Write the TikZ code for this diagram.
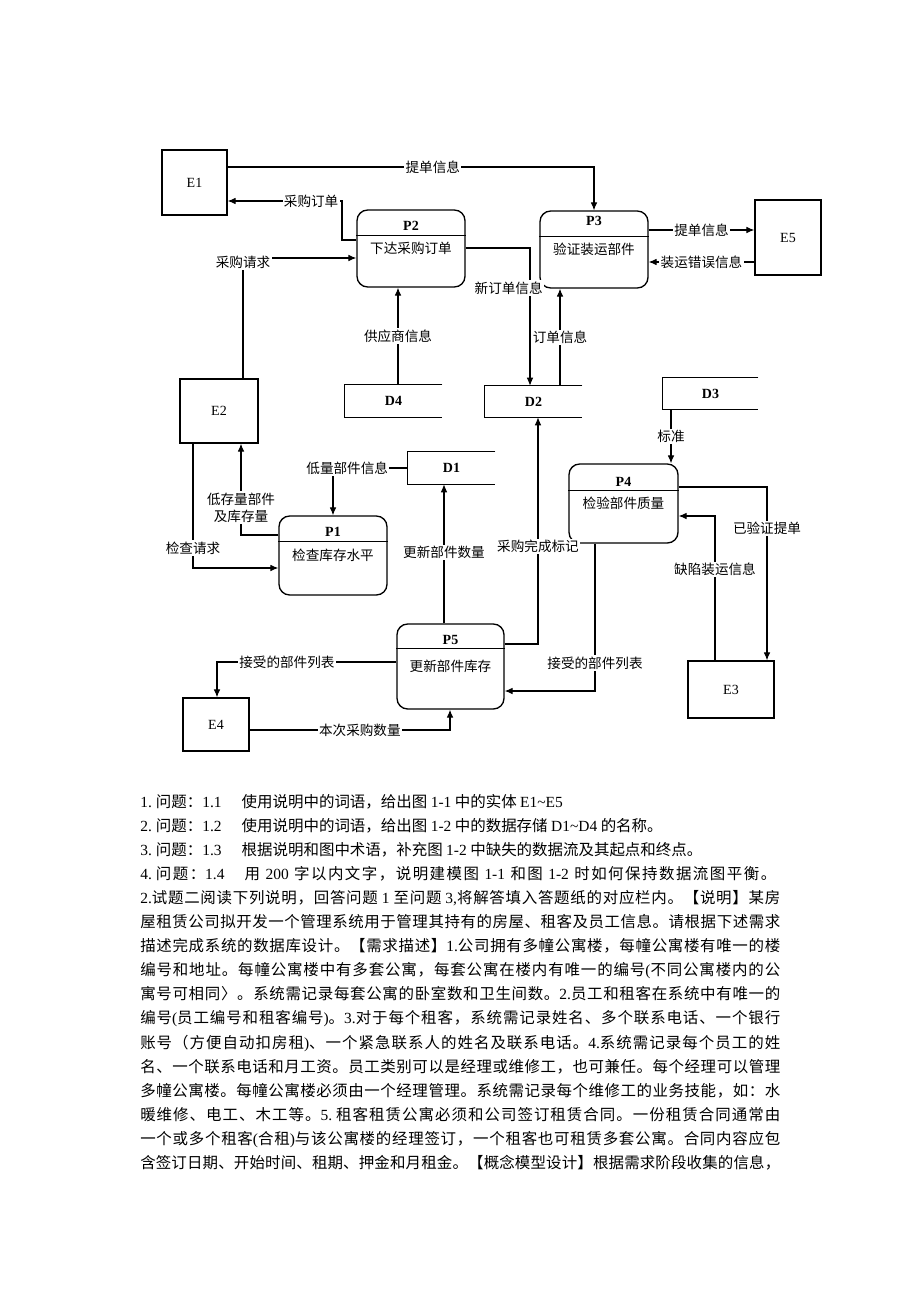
\documentclass[tikz,border=0pt]{standalone}
\usepackage{fontspec}
\setmainfont{Noto Sans CJK SC}
\newfontfamily\latn{Liberation Serif}
\usetikzlibrary{calc, shapes, arrows.meta, positioning}
% stretchable glue between Chinese characters, for the justified lines
\newXeTeXintercharclass\hzcls
\newcount\hzc
\hzc="4E00 \loop\XeTeXcharclass\hzc=\hzcls \ifnum\hzc<"9FFF \advance\hzc by 1 \repeat
\hzc="3000 \loop\XeTeXcharclass\hzc=\hzcls \ifnum\hzc<"303F \advance\hzc by 1 \repeat
\hzc="FF00 \loop\XeTeXcharclass\hzc=\hzcls \ifnum\hzc<"FFEF \advance\hzc by 1 \repeat
\XeTeXinterchartokenstate=1
\XeTeXinterchartoks \hzcls \hzcls = {\hskip 0pt plus 1pt}
\XeTeXinterchartoks 0 \hzcls = {\hskip 0pt plus 1pt}
\XeTeXinterchartoks \hzcls 0 = {\hskip 0pt plus 1pt}
\tikzstyle{entity} = [rectangle, draw, line width=1pt, font=\latn\fontsize{10.5}{12}\selectfont]
\tikzstyle{process} = [rectangle, draw, rounded corners=8pt, line width=1pt, font=\fontsize{10.2}{12}\selectfont]
\tikzstyle{pid} = [inner sep=0pt, font=\latn\bfseries\fontsize{10.5}{12}\selectfont]
\tikzstyle{store} = [rectangle, inner sep=0pt, font=\latn\bfseries\fontsize{10.5}{12}\selectfont]
\tikzstyle{flow} = [->, line width=0.8pt]
\tikzstyle{lbl} = [fill=white, inner sep=1pt, font=\fontsize{10.2}{12}\selectfont]
\tikzstyle{txt} = [anchor=base west, inner sep=0pt, font=\fontsize{11.6}{14}\selectfont]

\begin{document}
\begin{tikzpicture}[x=0.75pt, y=-0.75pt, >={Latex[length=6pt,width=5pt]}]
    \fill[white] (0,0) rectangle (920,1302);

    % external entities
    \node[entity, minimum width=48.75pt, minimum height=48.75pt] (E1) at (194.5,182.5) {E1};
    \node[entity, minimum width=58.5pt, minimum height=48pt] (E2) at (219,411) {E2};
    \node[entity, minimum width=64.5pt, minimum height=42.75pt] (E3) at (731,689.5) {E3};
    \node[entity, minimum width=49.5pt, minimum height=39.75pt] (E4) at (216,724.5) {E4};
    \node[entity, minimum width=49.5pt, minimum height=56.25pt] (E5) at (788,237.5) {E5};

    % processes
    \node[process, minimum width=81pt, minimum height=59.25pt] (P1) at (333,555.5) {检查库存水平};
    \node[pid] (P1id) at ($(P1.north)+(0,17)$) {P1};
    \draw[line width=1pt] ($(P1.north west)+(0,26)$) -- ($(P1.north east)+(0,26)$);

    \node[process, minimum width=81pt, minimum height=57.75pt] (P2) at (411,248.5) {下达采购订单};
    \node[pid] (P2id) at ($(P2.north)+(0,17)$) {P2};
    \draw[line width=1pt] ($(P2.north west)+(0,26)$) -- ($(P2.north east)+(0,26)$);

    \node[process, minimum width=81pt, minimum height=57.75pt] (P3) at (594,249.5) {验证装运部件};
    \node[pid] (P3id) at ($(P3.north)+(0,11)$) {P3};
    \draw[line width=1pt] ($(P3.north west)+(0,26)$) -- ($(P3.north east)+(0,26)$);

    \node[process, minimum width=81.75pt, minimum height=59.25pt] (P4) at (623.5,503.5) {检验部件质量};
    \node[pid] (P4id) at ($(P4.north)+(0,19)$) {P4};
    \draw[line width=1pt] ($(P4.north west)+(0,27)$) -- ($(P4.north east)+(0,27)$);

    \node[process, minimum width=80.25pt, minimum height=63.75pt] (P5) at (450.5,666.5) {更新部件库存};
    \node[pid] (P5id) at ($(P5.north)+(0,17)$) {P5};
    \draw[line width=1pt] ($(P5.north west)+(0,25)$) -- ($(P5.north east)+(0,25)$);

    % data stores
    \node[store, minimum width=65.25pt, minimum height=24pt] (D1) at (451.5,468) {D1};
    \node[store, minimum width=72.75pt, minimum height=23.25pt] (D2) at (533.5,401.5) {D2};
    \node[store, minimum width=71.25pt, minimum height=23.25pt] (D3) at (710.5,393.5) {D3};
    \node[store, minimum width=72.75pt, minimum height=24pt] (D4) at (393.5,401) {D4};
    \draw[line width=1pt] (D1.north east) -- (D1.north west) -- (D1.south west) -- (D1.south east);
    \draw[line width=1pt] (D2.north east) -- (D2.north west) -- (D2.south west) -- (D2.south east);
    \draw[line width=1pt] (D3.north east) -- (D3.north west) -- (D3.south west) -- (D3.south east);
    \draw[line width=1pt] (D4.north east) -- (D4.north west) -- (D4.south west) -- (D4.south east);

    % data flows
    \draw[flow] (E1.east |- 0,167) -- node[lbl, pos=0.56] {提单信息} (594,167) -- (P3);
    \draw[flow] (P2.west |- 0,240) -- (342,240) -- (342,201) -- node[lbl, pos=0.27] {采购订单} (E1.east |- 0,201);
    \draw[flow] (E2.north -| 243,0) -- node[lbl, pos=1, yshift=-3pt] {采购请求} (243,258) -- (P2.west |- 0,258);
    \draw[flow] (P2.east |- 0,248) -- (530,248) -- node[lbl, pos=0.29, xshift=-16pt] {新订单信息} (D2.north -| 530,0);
    \draw[flow] (D2.north -| 560,0) -- node[lbl] {订单信息} (P3.south -| 560,0);
    \draw[flow] (D4.north -| 398,0) -- node[lbl] {供应商信息} (P2.south -| 398,0);
    \draw[flow] (P3.east |- 0,230) -- node[lbl] {提单信息} (E5.west |- 0,230);
    \draw[flow] (E5.west |- 0,262) -- node[lbl] {装运错误信息} (P3.east |- 0,262);

    \draw[flow] (D3.south -| 671,0) -- node[lbl] {标准} (P4.north -| 671,0);
    \draw[flow] (P4.east |- 0,487) -- (767,487) -- node[lbl, pos=0.24] {已验证提单} (E3.north -| 767,0);
    \draw[flow] (E3.north -| 715,0) -- node[lbl, pos=0.63] {缺陷装运信息} (715,516) -- (P4.east |- 0,516);
    \draw[flow] (P4.south -| 595,0) -- node[lbl, pos=0.81] {接受的部件列表} (595,691) -- (P5.east |- 0,691);
    \draw[flow] (P5.east |- 0,644) -- (538,644) -- node[lbl, pos=0.43] {采购完成标记} (D2.south -| 538,0);
    \draw[flow] (P5.north -| 444,0) -- node[lbl, pos=0.51] {更新部件数量} (D1.south -| 444,0);
    \draw[flow] (D1.west) -- node[lbl, pos=0.81] {低量部件信息} (333,468) -- (P1.north -| 333,0);
    \draw[flow] (P1.west |- 0,535) -- (241,535) -- node[lbl, pos=0.30, align=center, font=\fontsize{10.2}{12.75}\selectfont] {低存量部件\\及库存量} (E2.south -| 241,0);
    \draw[flow] (E2.south -| 193,0) -- node[lbl, pos=0.84] {检查请求} (193,568) -- (P1.west |- 0,568);
    \draw[flow] (P5.west |- 0,662) -- node[lbl, pos=0.61] {接受的部件列表} (217,662) -- (E4.north -| 217,0);
    \draw[flow] (E4.east |- 0,730) -- node[lbl, pos=0.55] {本次采购数量} (450,730) -- (P5.south -| 450,0);

    % questions and text below the figure
    \node[txt] (q1) at (140,807) {{\latn 1.}\hspace{3pt}问题：{\latn 1.1}\hspace{1.3em}使用说明中的词语，给出图 {\latn 1-1} 中的实体 {\latn E1\textasciitilde E5}};
    \node[txt] (q2) at (140,831.1) {{\latn 2.}\hspace{3pt}问题：{\latn 1.2}\hspace{1.3em}使用说明中的词语，给出图 {\latn 1-2} 中的数据存储 {\latn D1\textasciitilde D4} 的名称。};
    \node[txt] (q3) at (140,855.2) {{\latn 3.}\hspace{3pt}问题：{\latn 1.3}\hspace{1.3em}根据说明和图中术语，补充图 {\latn 1-2} 中缺失的数据流及其起点和终点。};
    \node[txt] (q4) at (140,879.3) {\makebox[477pt][s]{{\latn 4.}\hspace{3pt}问题：{\latn 1.4}\hspace{1.3em}用 {\latn 200} 字以内文字，说明建模图 {\latn 1-1} 和图 {\latn 1-2} 时如何保持数据流图平衡。}};
    \node[txt] (t1) at (140,903.4) {\makebox[480pt][s]{{\latn 2.}试题二阅读下列说明，回答问题\hspace{3pt}{\latn 1}\hspace{3pt}至问题\hspace{3pt}{\latn 3,}将解答填入答题纸的对应栏内。【说明】某房}};
    \node[txt] (t2) at (140,927.5) {\makebox[480pt][s]{屋租赁公司拟开发一个管理系统用于管理其持有的房屋、租客及员工信息。请根据下述需求}};
    \node[txt] (t3) at (140,951.6) {\makebox[480pt][s]{描述完成系统的数据库设计。【需求描述】{\latn 1.}公司拥有多幢公寓楼，每幢公寓楼有唯一的楼}};
    \node[txt] (t4) at (140,975.7) {\makebox[480pt][s]{编号和地址。每幢公寓楼中有多套公寓，每套公寓在楼内有唯一的编号{\latn (}不同公寓楼内的公}};
    \node[txt] (t5) at (140,999.8) {\makebox[480pt][s]{寓号可相同〉。系统需记录每套公寓的卧室数和卫生间数。{\latn 2.}员工和租客在系统中有唯一的}};
    \node[txt] (t6) at (140,1023.9) {\makebox[480pt][s]{编号{\latn (}员工编号和租客编号{\latn )}。{\latn 3.}对于每个租客，系统需记录姓名、多个联系电话、一个银行}};
    \node[txt] (t7) at (140,1048) {\makebox[480pt][s]{账号（方便自动扣房租{\latn )}、一个紧急联系人的姓名及联系电话。{\latn 4.}系统需记录每个员工的姓}};
    \node[txt] (t8) at (140,1072.1) {\makebox[480pt][s]{名、一个联系电话和月工资。员工类别可以是经理或维修工，也可兼任。每个经理可以管理}};
    \node[txt] (t9) at (140,1096.2) {\makebox[480pt][s]{多幢公寓楼。每幢公寓楼必须由一个经理管理。系统需记录每个维修工的业务技能，如：水}};
    \node[txt] (t10) at (140,1120.3) {\makebox[480pt][s]{暖维修、电工、木工等。{\latn 5.}\hspace{3pt}租客租赁公寓必须和公司签订租赁合同。一份租赁合同通常由}};
    \node[txt] (t11) at (140,1144.4) {\makebox[480pt][s]{一个或多个租客{\latn (}合租{\latn )}与该公寓楼的经理签订，一个租客也可租赁多套公寓。合同内容应包}};
    \node[txt] (t12) at (140,1168.5) {\makebox[480pt][s]{含签订日期、开始时间、租期、押金和月租金。【概念模型设计】根据需求阶段收集的信息，}};
\end{tikzpicture}
\end{document}
